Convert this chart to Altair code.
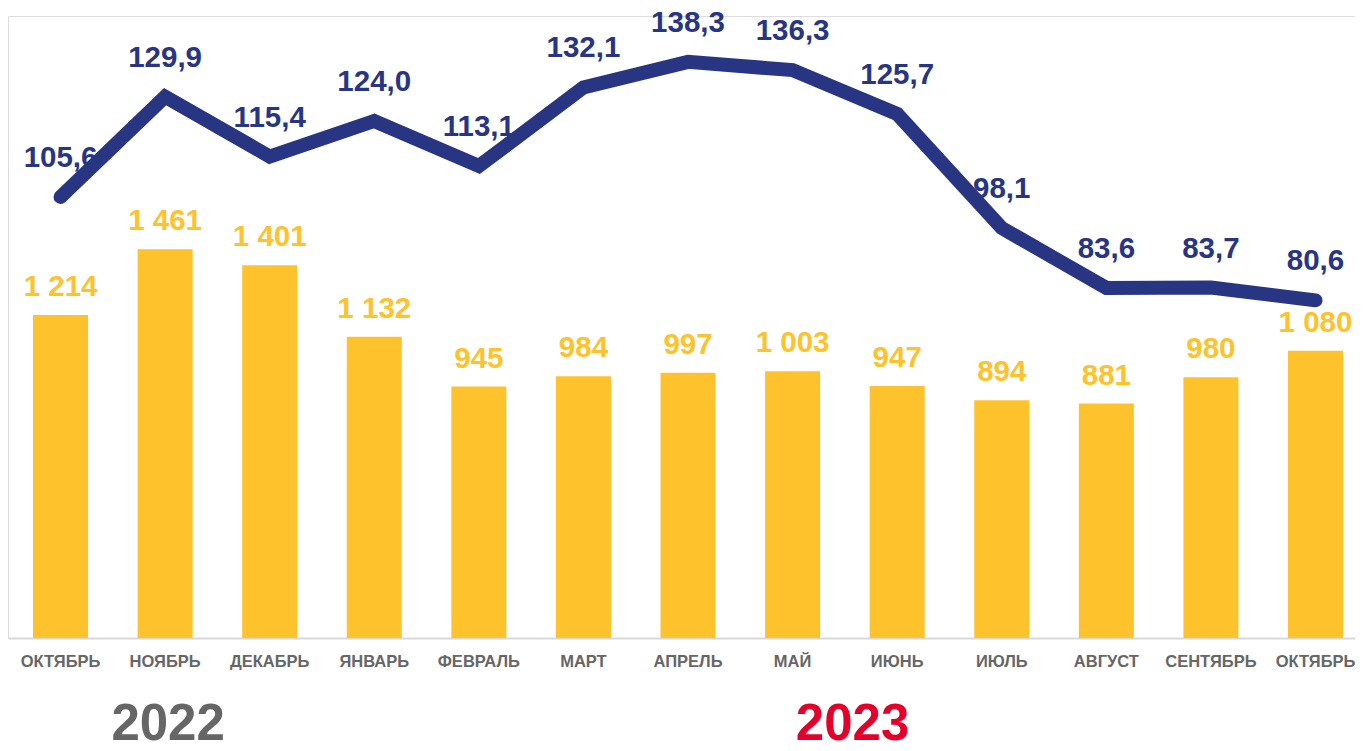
import altair as alt
import pandas as pd

months = ["ОКТЯБРЬ", "НОЯБРЬ", "ДЕКАБРЬ", "ЯНВАРЬ", "ФЕВРАЛЬ", "МАРТ", "АПРЕЛЬ",
          "МАЙ", "ИЮНЬ", "ИЮЛЬ", "АВГУСТ", "СЕНТЯБРЬ", "ОКТЯБРЬ"]
bar_values = [1214, 1461, 1401, 1132, 945, 984, 997, 1003, 947, 894, 881, 980, 1080]
line_values = [105.6, 129.9, 115.4, 124.0, 113.1, 132.1, 138.3, 136.3, 125.7, 98.1, 83.6, 83.7, 80.6]
years = ["2022", "2023"]
year_pos = [1, 7]

df = pd.DataFrame({
    "idx": list(range(len(months))),
    "bar": bar_values,
    "line": line_values,
    "bar_label": [f"{v:,}".replace(",", " ") for v in bar_values],
    "line_label": [f"{v:.1f}".replace(".", ",") for v in line_values],
})
ydf = pd.DataFrame({"idx": year_pos, "year": years})

FONT = "Liberation Sans"
YELLOW = "#FEC22D"
NAVY = "#283583"

label_expr = "[" + ",".join(f"'{m}'" for m in months) + "][datum.value]"

x = alt.X(
    "idx:O",
    scale=alt.Scale(paddingInner=0.474, paddingOuter=0.177, align=0.676),
    axis=alt.Axis(
        title=None, labelExpr=label_expr, labelAngle=0, ticks=False,
        labelFont=FONT, labelFontSize=16.5, labelFontWeight="bold",
        labelColor="#666666", labelPadding=15, domainColor="#D9D9D9",
        domainWidth=2, grid=False,
    ),
)

ybar = alt.Y("bar:Q", scale=alt.Scale(domain=[0, 2338], nice=False, zero=True), axis=None)
yline = alt.Y("line:Q", scale=alt.Scale(domain=[-1.1, 149.4], nice=False, zero=False), axis=None)

base = alt.Chart(df)

bars = base.mark_bar(color=YELLOW).encode(x=x, y=ybar)
bar_text = base.mark_text(
    font=FONT, fontSize=29.5, fontWeight="bold", color=YELLOW, baseline="middle", dy=-28
).encode(x=x, y=ybar, text="bar_label:N")

line = base.mark_line(
    color=NAVY, strokeWidth=14, strokeCap="round", strokeJoin="miter"
).encode(x=x, y=yline)
line_text = base.mark_text(
    font=FONT, fontSize=29.5, fontWeight="bold", color=NAVY, baseline="middle", dy=-39
).encode(x=x, y=yline, text="line_label:N")

year_2022 = alt.Chart(ydf[ydf.year == "2022"]).mark_text(
    font=FONT, fontSize=51, fontWeight="bold", baseline="alphabetic", align="center",
    dx=3, color="#666666"
).encode(x=alt.X("idx:O"), y=alt.value(724), text="year:N")
year_2023 = alt.Chart(ydf[ydf.year == "2023"]).mark_text(
    font=FONT, fontSize=51, fontWeight="bold", baseline="alphabetic", align="center",
    dx=60, color="#E4002B"
).encode(x=alt.X("idx:O"), y=alt.value(724), text="year:N")

chart = alt.layer(
    bars, bar_text, line, line_text, year_2022, year_2023
).resolve_scale(y="independent").properties(
    width=1347, height=622,
    autosize=alt.AutoSizeParams(type="none"),
    padding={"left": 0, "top": 8, "right": 0, "bottom": 105},
).configure_view(stroke=None).configure(background="white")

chart.save("out.html", embed_options={"renderer": "svg", "actions": False})
